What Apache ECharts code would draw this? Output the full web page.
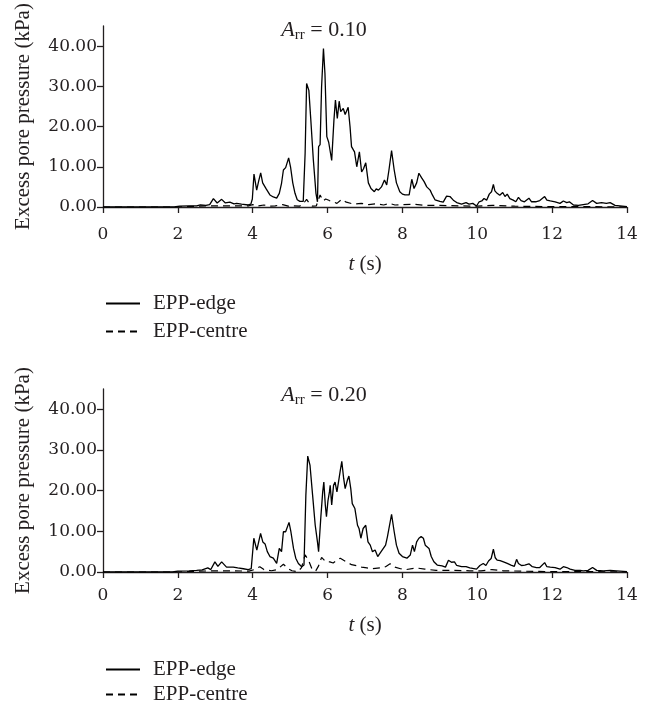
<!DOCTYPE html>
<html>
<head>
<meta charset="utf-8">
<script src="https://cdn.jsdelivr.net/npm/echarts@6/dist/echarts.min.js"></script>
<style>
html,body{margin:0;padding:0;background:#fff;}
#chart{width:646px;height:705px;}
</style>
</head>
<body>
<div id="chart"></div>
<script>
// ---- Data (time in s, excess pore pressure in kPa) ----
var xTicks = [0, 2, 4, 6, 8, 10, 12, 14];
var yTicks = [0, 10, 20, 30, 40];
var seriesNames = ['EPP-edge', 'EPP-centre'];
var panelTitles = ['0.10', '0.20'];

// A_rr = 0.10, EPP-edge
var edge10T = [0,1.9,2.05,2.3,2.5,2.6,2.75,2.85,2.95,3.05,3.17,3.27,3.39,3.5,3.57,3.7,3.88,3.95,3.99,4.034,4.106,4.16,4.213,4.266,4.3,4.36,4.46,4.55,4.64,4.71,4.77,4.82,4.88,4.96,5.01,5.07,5.13,5.19,5.26,5.35,5.4,5.44,5.5,5.55,5.62,5.69,5.73,5.76,5.8,5.84,5.89,5.93,5.98,6.03,6.08,6.11,6.17,6.21,6.26,6.31,6.35,6.42,6.47,6.55,6.6,6.64,6.72,6.78,6.85,6.91,6.96,7.02,7.09,7.16,7.25,7.3,7.36,7.44,7.52,7.58,7.64,7.71,7.78,7.84,7.93,8.0,8.07,8.18,8.25,8.31,8.38,8.44,8.51,8.58,8.65,8.74,8.8,8.87,9.0,9.09,9.18,9.27,9.36,9.45,9.58,9.7,9.78,9.88,9.98,10.05,10.12,10.18,10.25,10.32,10.38,10.43,10.47,10.53,10.6,10.68,10.74,10.8,10.87,10.96,11.03,11.1,11.17,11.26,11.38,11.45,11.56,11.67,11.8,11.86,11.95,12.08,12.21,12.3,12.39,12.46,12.57,12.7,12.83,12.96,13.08,13.19,13.32,13.45,13.55,13.68,13.81,14];
var edge10V = [0,0,0.2,0.3,0.3,0.5,0.4,0.6,2.1,1.0,1.9,1.0,1.2,0.8,0.9,0.7,0.5,0.7,2.0,8.2,4.2,6.5,8.5,6.0,6.2,4.5,3.0,2.5,2.2,3.4,5.9,9.2,9.8,12.2,10.0,6.0,3.4,1.8,1.4,1.4,13.3,30.7,29.0,22.0,11.7,3.4,1.3,15.0,15.5,29.9,39.4,33.2,17.5,16.1,13.3,11.6,21.6,26.6,22.0,26.3,23.7,24.5,23.0,24.8,20.0,15.0,13.7,10.0,13.7,8.7,9.5,11.0,6.0,4.6,3.8,4.5,4.2,5.0,6.7,5.5,9.2,14.0,9.2,6.0,3.8,3.2,3.0,3.0,6.9,4.6,6.0,8.4,7.3,6.3,5.0,4.2,3.0,1.8,1.4,1.2,2.7,2.6,1.7,1.1,0.7,1.1,0.7,0.9,0.25,1.3,1.5,2.1,1.7,3.2,3.8,5.6,4.0,3.4,2.9,3.6,2.6,3.2,2.1,1.7,1.3,2.4,1.6,1.3,2.2,1.3,1.3,1.6,2.6,1.7,1.5,1.3,0.9,1.5,1.1,1.3,0.5,0.4,0.6,0.8,1.6,0.9,1.1,0.9,1.1,0.4,0.3,0.1];

// A_rr = 0.10, EPP-centre
var centre10T = [0,2.0,2.5,3.0,3.5,3.9,4.0,4.1,4.3,4.45,4.6,4.8,4.95,5.1,5.25,5.35,5.44,5.52,5.6,5.7,5.8,5.88,5.95,6.05,6.15,6.25,6.38,6.5,6.7,6.9,7.1,7.3,7.5,7.65,7.8,8.0,8.3,8.6,9.0,9.5,10.0,10.4,11.0,12.0,13.0,14.0];
var centre10V = [0,0,0.2,0.3,0.3,0.3,0.6,0.2,0.5,0.2,0.3,0.6,0.2,0.3,0.2,0.8,1.9,0.8,0.2,0.3,3.0,1.5,2.0,1.6,1.3,0.9,1.9,1.2,0.7,0.9,0.6,0.8,0.5,0.9,0.5,0.6,0.7,0.4,0.4,0.3,0.2,0.4,0.2,0.1,0.1,0];

// A_rr = 0.20, EPP-edge
var edge20T = [0,1.85,2.0,2.3,2.5,2.65,2.8,2.88,2.99,3.07,3.17,3.3,3.48,3.6,3.75,3.88,3.96,4.03,4.11,4.21,4.27,4.33,4.39,4.46,4.55,4.64,4.71,4.77,4.82,4.88,4.97,5.02,5.09,5.15,5.22,5.31,5.37,5.42,5.47,5.53,5.6,5.67,5.73,5.76,5.82,5.87,5.9,5.94,5.97,6.01,6.05,6.07,6.11,6.16,6.2,6.25,6.3,6.34,6.38,6.43,6.47,6.53,6.57,6.62,6.66,6.73,6.8,6.84,6.89,6.95,7.02,7.08,7.14,7.2,7.27,7.34,7.43,7.49,7.55,7.6,7.71,7.78,7.84,7.91,8.0,8.12,8.21,8.27,8.32,8.38,8.44,8.5,8.56,8.61,8.65,8.71,8.77,8.84,8.93,9.06,9.15,9.23,9.31,9.39,9.45,9.58,9.7,9.8,9.98,10.07,10.16,10.23,10.3,10.37,10.43,10.48,10.53,10.61,10.7,10.8,10.9,10.99,11.05,11.1,11.18,11.27,11.38,11.47,11.58,11.67,11.8,11.86,11.95,12.08,12.21,12.3,12.39,12.48,12.61,12.75,12.83,12.96,13.08,13.19,13.37,13.55,13.72,14];
var edge20V = [0,0,0.2,0.3,0.4,0.5,1.0,0.6,2.5,1.4,2.5,1.2,1.2,1.0,0.8,0.6,0.8,8.3,5.4,9.5,7.4,6.9,5.0,3.8,3.4,2.1,5.8,5.0,9.9,9.9,12.2,9.9,5.8,3.4,2.1,1.3,1.7,18.9,28.5,26.3,18.9,11.5,7.4,5.0,13.5,19.7,22.1,16.4,13.6,17.5,19.7,21.3,16.5,21.3,22.1,19.7,22.6,25.0,27.2,23.0,20.5,22.6,23.6,20.5,16.8,15.6,11.5,10.7,8.3,10.7,11.5,7.4,6.6,5.0,5.4,3.8,5.0,5.8,6.6,8.7,14.2,9.9,6.6,4.6,3.8,3.4,4.2,6.6,5.0,7.4,8.3,8.7,8.3,6.6,6.2,5.8,3.8,2.5,1.7,1.5,1.2,2.9,2.4,2.5,1.6,1.3,1.3,1.0,0.7,1.6,2.1,1.6,2.7,3.3,5.6,3.5,2.9,2.8,2.5,2.1,1.7,1.4,3.1,2.1,1.6,1.7,2.0,1.3,1.1,1.1,2.3,1.3,1.2,1.1,0.7,1.3,1.1,0.7,0.4,0.4,0.3,0.4,1.1,0.4,0.3,0.4,0.3,0.1];

// A_rr = 0.20, EPP-centre
var centre20T = [0,2.0,2.5,3.0,3.5,3.9,4.05,4.19,4.3,4.5,4.65,4.82,4.95,5.05,5.2,5.3,5.4,5.49,5.58,5.68,5.76,5.84,5.89,5.95,6.06,6.15,6.25,6.34,6.38,6.5,6.64,6.8,6.91,7.05,7.18,7.4,7.55,7.67,7.8,7.95,8.1,8.37,8.6,8.9,9.3,9.8,10.1,10.39,10.7,11.2,12.0,13.0,14.0];
var centre20V = [0,0,0.2,0.3,0.3,0.2,0.6,1.3,0.6,0.3,0.6,1.9,0.8,0.3,0.1,1.0,4.2,2.9,0.8,0.2,1.5,3.6,3.3,2.5,2.5,2.2,2.9,3.4,3.5,2.5,1.8,1.5,1.2,1.0,0.8,1.0,1.3,2.0,1.2,0.8,0.6,1.0,0.7,0.4,0.4,0.3,0.3,0.6,0.3,0.2,0.1,0.1,0];

function pairs(t, v) { return t.map(function (x, i) { return [x, v[i]]; }); }

var FONT = 'Liberation Serif';
var NUMFONT = 'DejaVu Serif';
var INK = '#231f20';

var chart = echarts.init(document.getElementById('chart'), null, {renderer: 'canvas'});

var grids = [
  {left: 103, top: 26, width: 524, height: 181},
  {left: 103, top: 389, width: 524, height: 183}
];
var xLabelMargin = [19, 15];
var xNameGap = [47, 43];

function xAxis(i) {
  return {
    type: 'value', gridIndex: i, min: 0, max: 14, interval: 2,
    name: '{i|t} (s)', nameLocation: 'middle', nameGap: xNameGap[i],
    nameTextStyle: {fontFamily: FONT, fontSize: 21, color: INK,
      rich: {i: {fontFamily: FONT, fontSize: 21, fontStyle: 'italic', color: INK}}},
    axisLine: {show: true, lineStyle: {color: INK, width: 1.3}},
    axisTick: {show: true, length: 6, customValues: xTicks, lineStyle: {color: INK, width: 1.3}},
    axisLabel: {fontFamily: NUMFONT, fontSize: 17, color: INK, margin: xLabelMargin[i], customValues: xTicks},
    splitLine: {show: false}
  };
}
function yAxis(i) {
  return {
    type: 'value', gridIndex: i, min: 0, max: 45,
    name: 'Excess pore pressure (kPa)', nameLocation: 'middle', nameGap: 69,
    nameTextStyle: {fontFamily: FONT, fontSize: 21, color: INK},
    axisLine: {show: true, lineStyle: {color: INK, width: 1.3}},
    axisTick: {show: true, length: 6, customValues: yTicks, lineStyle: {color: INK, width: 1.3}},
    axisLabel: {fontFamily: NUMFONT, fontSize: 17, color: INK, margin: 6, customValues: yTicks,
      formatter: function (v) { return v.toFixed(2); }},
    splitLine: {show: false}
  };
}

var series = [];
var sets = [[edge10T, edge10V, centre10T, centre10V], [edge20T, edge20V, centre20T, centre20V]];
sets.forEach(function (s, i) {
  series.push({
    name: seriesNames[0], type: 'line', xAxisIndex: i, yAxisIndex: i,
    data: pairs(s[0], s[1]), symbol: 'none', showSymbol: false, smooth: false,
    lineStyle: {color: '#000', width: 1.3, type: 'solid'}, itemStyle: {color: '#000'}, z: 3
  });
  series.push({
    name: seriesNames[1], type: 'line', xAxisIndex: i, yAxisIndex: i,
    data: pairs(s[2], s[3]), symbol: 'none', showSymbol: false, smooth: false,
    lineStyle: {color: '#000', width: 1.2, type: [7, 5]}, itemStyle: {color: '#000'}, z: 2
  });
});

function legend(name, top) {
  return {
    orient: 'vertical', left: 105, top: top, padding: 0,
    itemWidth: 34, itemHeight: 14,
    data: [name], selectedMode: false,
    itemStyle: {opacity: 0},
    textStyle: {fontFamily: FONT, fontSize: 21, color: INK, padding: [0, 0, 0, 8]}
  };
}

function titleText(val, y) {
  return {
    type: 'text', x: 324, y: y,
    style: {
      text: '{a|A}{s|rr}{n| = ' + val + '}',
      align: 'center', verticalAlign: 'middle',
      rich: {
        a: {fontFamily: FONT, fontSize: 22, fontStyle: 'italic', fill: INK, lineHeight: 26},
        s: {fontFamily: FONT, fontSize: 15, fill: INK, verticalAlign: 'bottom', lineHeight: 17},
        n: {fontFamily: FONT, fontSize: 22, fill: INK, lineHeight: 26}
      }
    }
  };
}

chart.setOption({
  animation: false,
  backgroundColor: '#fff',
  grid: grids,
  xAxis: [xAxis(0), xAxis(1)],
  yAxis: [yAxis(0), yAxis(1)],
  legend: [
    legend(seriesNames[0], 293), legend(seriesNames[1], 321),
    legend(seriesNames[0], 659), legend(seriesNames[1], 684)
  ],
  graphic: [titleText(panelTitles[0], 30), titleText(panelTitles[1], 395)],
  series: series
});
</script>
</body>
</html>
